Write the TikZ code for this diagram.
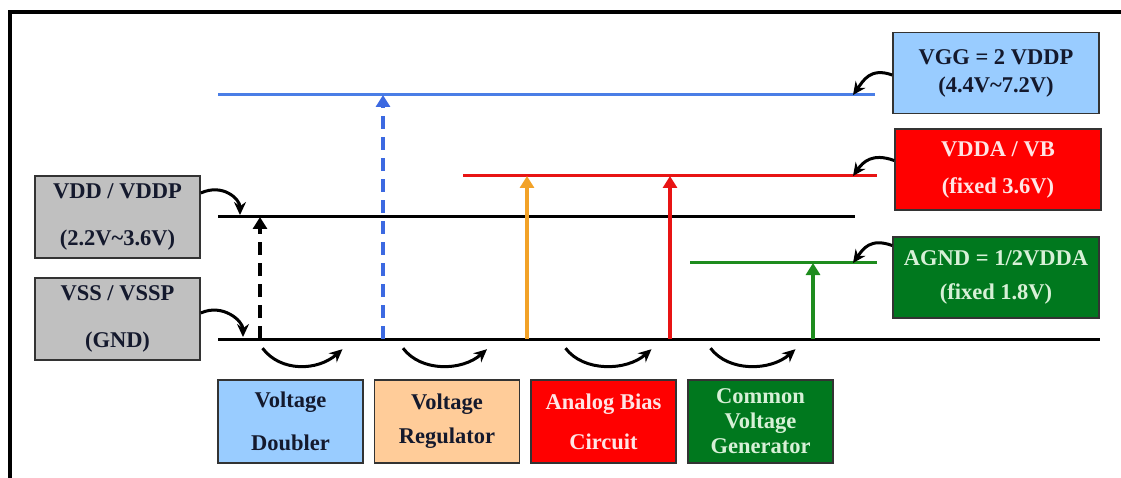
\documentclass[tikz,border=0pt]{standalone}
\usepackage{fontspec}
\setmainfont{Liberation Serif}
\newfontfamily\lvlfont{Liberation Serif}
\usepackage{xcolor}
\usetikzlibrary{positioning}
\usetikzlibrary{arrows.meta}

\definecolor{boxgray}{RGB}{192,192,192}
\definecolor{boxblue}{RGB}{153,204,255}
\definecolor{boxpeach}{RGB}{255,204,153}
\definecolor{boxred}{RGB}{255,0,0}
\definecolor{boxgreen}{RGB}{0,120,30}
\definecolor{railblue}{RGB}{74,126,230}
\definecolor{arrowblue}{RGB}{60,105,225}
\definecolor{railred}{RGB}{232,20,20}
\definecolor{railgreen}{RGB}{30,140,30}
\definecolor{arroworange}{RGB}{242,162,40}
\definecolor{inkdark}{RGB}{20,25,45}
\definecolor{inkred}{RGB}{255,228,228}
\definecolor{inkgreen}{RGB}{215,240,215}

\begin{document}
\begin{tikzpicture}[x=1pt,y=-1pt]
  \tikzset{Level/.style={rectangle, draw=black!80, line width=1.6pt, text centered, align=center, inner sep=0pt, font=\lvlfont\fontsize{22.5}{25}\selectfont\bfseries}};
  \tikzset{Supply/.style={Level, fill=boxgray, text=inkdark, minimum width=165pt, minimum height=82pt}};
  \tikzset{Target/.style={Level, minimum width=206pt, minimum height=81pt}};
  \tikzset{Block/.style={Level, minimum width=145pt, minimum height=83pt}};
  \tikzset{Rail/.style={line width=3pt}};
  \tikzset{Lift/.style={line width=3.5pt, -{Triangle[length=12pt,width=14pt]}}};
  \tikzset{Hook/.style={line width=3pt, -{Stealth[length=13pt,width=12pt]}}};
  \useasboundingbox (0,0) rectangle (1121,478);
  % frame
  \draw[line width=3.5pt] (10,478) |- (1121,12);
  % supply boxes
  \node[Supply] (vdd) at (117.5,217) {VDD / VDDP\\[22pt](2.2V\textasciitilde3.6V)};
  \node[Supply] (vss) at (117.5,319) {VSS / VSSP\\[22pt](GND)};
  \node[Target, fill=boxblue, text=inkdark] (vgg) at (996,73) {VGG = 2 VDDP\\[3pt](4.4V\textasciitilde7.2V)};
  \node[Target, fill=boxred, text=inkred] (vdda) at (998,169.5) {VDDA / VB\\[12pt](fixed 3.6V)};
  \node[Target, fill=boxgreen, text=inkgreen] (agnd) at (996,277.5) {AGND = 1/2VDDA\\[9pt](fixed 1.8V)};
  % circuit blocks
  \node[Block, fill=boxblue, text=inkdark] (dbl) at (290.5,421.5) {Voltage\\[18pt]Doubler};
  \node[Block, fill=boxpeach, text=inkdark] (reg) at (447,421.5) {Voltage\\[9pt]Regulator};
  \node[Block, fill=boxred, text=inkred] (ana) at (603.5,421.5) {Analog Bias\\[15pt]Circuit};
  \node[Block, fill=boxgreen, text=inkgreen] (cvg) at (760.5,421.5) {Common\\Voltage\\Generator};
  % rails
  \coordinate (vggL) at (218,95);   \coordinate (vggR) at (875,95);
  \coordinate (vddaL) at (463,176); \coordinate (vddaR) at (877,176);
  \coordinate (vddL) at (218,217);  \coordinate (vddR) at (855,217);
  \coordinate (agndL) at (690,263); \coordinate (agndR) at (877,263);
  \coordinate (vssL) at (218,339);  \coordinate (vssR) at (1100,339);
  \draw[Rail, railblue] (vggL) -- (vggR);
  \draw[Rail, railred] (vddaL) -- (vddaR);
  \draw[Rail] (vddL) -- (vddR);
  \draw[Rail, railgreen] (agndL) -- (agndR);
  \draw[Rail] (vssL) -- (vssR);
  % level shifts
  \coordinate (f1) at (260,339);
  \coordinate (f2) at (383,339);
  \coordinate (f3) at (527,339);
  \coordinate (f4) at (670,339);
  \coordinate (f5) at (813,339);
  \draw[Lift, dash pattern=on 13pt off 8pt] (f1) -- (f1 |- vddL);
  \draw[Lift, arrowblue, dash pattern=on 13pt off 8pt] (f2) -- (f2 |- vggL);
  \draw[Lift, arroworange] (f3) -- (f3 |- vddaL);
  \draw[Lift, railred] (f4) -- (f4 |- vddaL);
  \draw[Lift, railgreen] (f5) -- (f5 |- agndL);
  % labels to rails
  \draw[Hook] ([yshift=24pt]vdd.east) .. controls +(22,-10) and +(0,-16) .. ([xshift=22pt,yshift=2pt]vddL);
  \draw[Hook] ([yshift=6pt]vss.east) .. controls +(22,-10) and +(0,-16) .. ([xshift=25pt,yshift=2pt]vssL);
  \draw[Hook] ([yshift=-2pt]vgg.west) .. controls +(-22,-8) and +(10,-14) .. ([xshift=-22pt]vggR);
  \draw[Hook] ([yshift=9pt]vdda.west) .. controls +(-22,-8) and +(10,-14) .. ([xshift=-24pt]vddaR);
  \draw[Hook] ([yshift=32pt]agnd.west) .. controls +(-22,-8) and +(10,-14) .. ([xshift=-24pt]agndR);
  % block swooshes
  \draw[Hook] ([xshift=-28pt,yshift=31pt]dbl.north) .. controls +(18,24) and +(-25,22) .. ([xshift=52pt,yshift=30pt]dbl.north);
  \draw[Hook] ([xshift=-44pt,yshift=31pt]reg.north) .. controls +(18,24) and +(-25,22) .. ([xshift=40pt,yshift=30pt]reg.north);
  \draw[Hook] ([xshift=-38pt,yshift=31pt]ana.north) .. controls +(18,24) and +(-25,22) .. ([xshift=48pt,yshift=30pt]ana.north);
  \draw[Hook] ([xshift=-50pt,yshift=31pt]cvg.north) .. controls +(18,24) and +(-25,22) .. ([xshift=35pt,yshift=30pt]cvg.north);
\end{tikzpicture}
\end{document}
